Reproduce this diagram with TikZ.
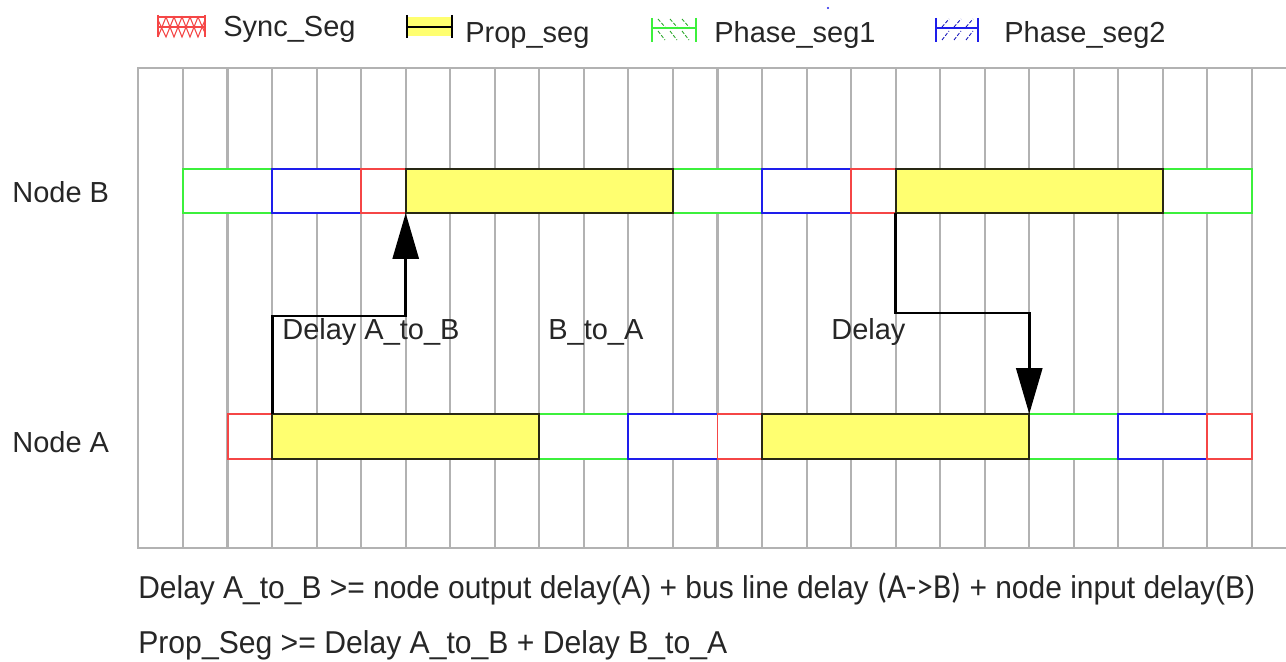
\documentclass[tikz,border=0pt]{standalone}
\usepackage{graphicx}
\usepackage{fontspec}
\setmainfont{Liberation Sans}
\newfontfamily\calib{Carlito}
\usetikzlibrary{arrows.meta,fit}
\definecolor{gridgray}{RGB}{178,178,178}
\definecolor{sgreen}{RGB}{60,240,60}
\definecolor{sblue}{RGB}{30,30,235}
\definecolor{sred}{RGB}{245,70,70}
\definecolor{pyellow}{RGB}{255,255,112}
\definecolor{pborder}{RGB}{40,40,20}
\newcommand\gx[1]{(183+44.54*#1)}
\begin{document}
\begin{tikzpicture}[x=0.02cm,y=-0.02cm,
  gridline/.style={gridgray,line width=1.2pt},
  seg/.style={inner sep=0pt,outer sep=0pt,line width=1.1pt,draw,fill=white},
  sync/.style={seg,draw=sred},
  ph1/.style={seg,draw=sgreen},
  ph2/.style={seg,draw=sblue},
  prop/.style={seg,draw=pborder,fill=pyellow},
  lbl/.style={font=\fontsize{16.5}{19}\selectfont,anchor=base west,inner sep=0pt,text=black!85},
  eq/.style={lbl,font=\fontsize{18}{20}\selectfont},
  arr/.style={line width=1.7pt,-{Triangle[length=0.92cm,width=0.52cm]}}
]
\useasboundingbox (0,0) rectangle (1286,662);
% grid
\draw[gridline] (1286,68) -- (138,68) -- (138,548) -- (1286,548);
\foreach \k in {0,...,24} \draw[gridline] ({\gx{\k}},68) -- ({\gx{\k}},548);
% legend
\draw[sred,line width=0.8pt] (158,15) -- (158,37) (205,15) -- (205,37) (158,17) -- (205,17) (158,27) -- (205,27);
\draw[sred,line width=0.6pt] (158,37) -- (166,17) -- (174,37) -- (182,17) -- (190,37) -- (198,17) -- (205,33)
  (158,20) -- (166,37) -- (174,17) -- (182,37) -- (190,17) -- (198,37) -- (205,20);
\node[lbl] (lgsync) at (223,37) {Sync\_Seg};
\fill[pyellow] (407,17) rectangle (452,36);
\draw[black,line width=1pt] (407,15) -- (407,38) (452,15) -- (452,38) (407,27) -- (452,27);
\node[lbl] (lgprop) at (465,43) {Prop\_seg};
\draw[sgreen,line width=0.9pt] (652,18) -- (652,42) (696,18) -- (696,42) (652,28) -- (696,28);
\foreach \x in {658,670,682} \draw[sgreen!70!black,line width=0.5pt,dash pattern=on 2pt off 1pt] (\x,19) -- (\x+7,27) (\x,31) -- (\x+7,40);
\node[lbl] (lgph1) at (714,43) {Phase\_seg1};
\draw[sblue,line width=0.9pt] (936,18) -- (936,42) (978,18) -- (978,42) (936,28) -- (978,28);
\foreach \x in {942,954,966} \draw[sblue!80!black,line width=0.5pt,dash pattern=on 2pt off 1pt] (\x,27) -- (\x+7,19) (\x,40) -- (\x+7,31);
\node[lbl] (lgph2) at (1004,43) {Phase\_seg2};
\fill[sblue] (828,8) circle (1.2);
% row labels
\node[lbl] (nodeB) at (12,203) {Node B};
\node[lbl] (nodeA) at (12,453) {Node A};
% Node B row
\node[ph1,  fit={({\gx{0}},169) ({\gx{2}},213)}] (b1) {};
\node[ph2,  fit={({\gx{2}},169) ({\gx{4}},213)}] (b2) {};
\node[sync, fit={({\gx{4}},169) ({\gx{5}},213)}] (b3) {};
\node[ph1,  fit={({\gx{11}},169) ({\gx{13}},213)}] (b5) {};
\node[ph2,  fit={({\gx{13}},169) ({\gx{15}},213)}] (b6) {};
\node[sync, fit={({\gx{15}},169) ({\gx{16}},213)}] (b7) {};
\node[ph1,  fit={({\gx{22}},169) ({\gx{24}},213)}] (b9) {};
\node[prop, fit={({\gx{5}},169) ({\gx{11}},213)}] (pB1) {};
\node[prop, fit={({\gx{16}},169) ({\gx{22}},213)}] (pB2) {};
% Node A row
\node[sync, fit={({\gx{1}},414) ({\gx{2}},459)}] (a1) {};
\node[ph1,  fit={({\gx{8}},414) ({\gx{10}},459)}] (a3) {};
\node[ph2,  fit={({\gx{10}},414) ({\gx{12}},459)}] (a4) {};
\node[sync, fit={({\gx{12}},414) ({\gx{13}},459)}] (a5) {};
\node[ph1,  fit={({\gx{19}},414) ({\gx{21}},459)}] (a7) {};
\node[ph2,  fit={({\gx{21}},414) ({\gx{23}},459)}] (a8) {};
\node[sync, fit={({\gx{23}},414) ({\gx{24}},459)}] (a9) {};
\node[prop, fit={({\gx{2}},414) ({\gx{8}},459)}] (pA1) {};
\node[prop, fit={({\gx{13}},414) ({\gx{19}},459)}] (pA2) {};
% arrows
\draw[arr] (pA1.north west) -- ++(0,-98) -| (pB1.south west);
\draw[arr] (pB2.south west) -- ++(0,100) -| (pA2.north east);
\node[lbl] (lAB) at (282,340) {Delay A\_to\_B};
\node[lbl] (lBA) at (548,340) {B\_to\_A};
\node[lbl] (lD) at (831,340) {Delay};
% formulas
\node[eq] (eq1) at (138,598) {\resizebox{22.34cm}{\height}{Delay A\_to\_B >= node output delay(A) + bus line delay {\calib\fontsize{20}{22}\selectfont(A->B)} + node input delay(B)}};
\node[eq] (eq2) at (138,653) {\resizebox{11.78cm}{\height}{Prop\_Seg >= Delay A\_to\_B + Delay B\_to\_A}};
\end{tikzpicture}
\end{document}
